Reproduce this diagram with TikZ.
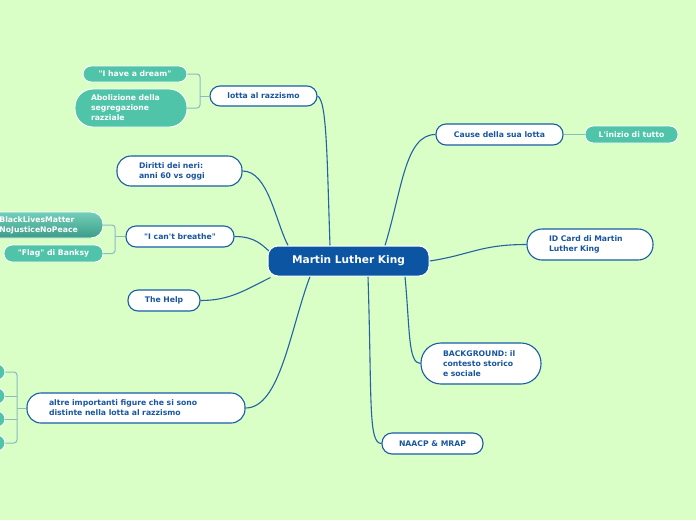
\documentclass[tikz,border=0pt]{standalone}
\usepackage{fontspec}
\setmainfont{DejaVu Sans}
\definecolor{bg}{HTML}{D9FEC6}
\definecolor{mainblue}{HTML}{0B55A3}
\definecolor{bordblue}{HTML}{1A5DA6}
\definecolor{txtblue}{HTML}{1A55A0}
\definecolor{teal}{HTML}{4FC4A9}
\definecolor{tealtop}{HTML}{72D0BA}
\definecolor{tealbot}{HTML}{3D9C87}
\definecolor{linkc}{HTML}{2462A3}
\definecolor{subc}{HTML}{8DB9C2}
\newcommand{\dq}{\textquotedbl}
\newcommand{\sq}{\textquotesingle}
\begin{document}
\begin{tikzpicture}[x=1pt,y=-1pt,
  txt/.style={font=\fontsize{7.7pt}{10pt}\selectfont\bfseries},
  wbox/.style={txt,draw=bordblue,line width=1.1pt,fill=white,text=txtblue,rounded corners=10pt,inner sep=0pt},
  tbox/.style={txt,draw=white,line width=0.9pt,fill=teal,text=white,rounded corners=8pt,inner sep=0pt},
  link/.style={draw=linkc,line width=1.1pt},
  sub/.style={draw=subc,line width=1pt,rounded corners=3pt},
  central/.style={draw=white,line width=1pt,fill=mainblue,text=white,rounded corners=10pt,minimum width=161pt,minimum height=30pt,inner sep=0pt,font=\fontsize{10.6pt}{12pt}\selectfont\bfseries}]
\useasboundingbox (0,0) rectangle (696,520);
\clip (0,0) rectangle (696,520);
\fill[bg] (0,0) rectangle (696,520);

% central
\node[central] (c) at (348.5,261) {Martin Luther King};

% white nodes
\node[wbox,minimum width=107pt,minimum height=20pt] (lotta) at (263.5,96) {lotta al razzismo};
\node[wbox,minimum width=127pt,minimum height=21pt] (cause) at (499.5,134.5) {Cause della sua lotta};
\node[wbox,minimum width=125pt,minimum height=30pt,text width=81pt,align=left,inner xsep=22pt,rounded corners=14pt] (diritti) at (179.5,171) {Diritti dei neri:\\anni 60 vs oggi};
\node[wbox,minimum width=126pt,minimum height=31pt,text width=82pt,align=left,inner xsep=22pt,rounded corners=15pt] (idcard) at (590,244.5) {ID Card di Martin\\Luther King};
\node[wbox,minimum width=108pt,minimum height=21pt] (breathe) at (180,236.5) {\dq I can\sq t breathe\dq};
\node[wbox,minimum width=72pt,minimum height=21pt] (help) at (164,300.5) {The Help};
\node[wbox,minimum width=218pt,minimum height=30pt,text width=174pt,align=left,inner xsep=22pt,rounded corners=14pt] (altre) at (136,408) {altre importanti figure che si sono\\distinte nella lotta al razzismo};
\node[wbox,minimum width=120pt,minimum height=41pt,text width=76pt,align=left,inner xsep=22pt,rounded corners=20pt] (backg) at (481,363.5) {BACKGROUND: il\\contesto storico\\e sociale};
\node[wbox,minimum width=101pt,minimum height=21pt] (naacp) at (432.5,443.5) {NAACP \& MRAP};

% teal nodes
\node[tbox,minimum width=104pt,minimum height=16pt] (dream) at (135,74) {\dq I have a dream\dq};
\node[tbox,minimum width=112pt,minimum height=38pt,text width=80pt,align=left,inner xsep=16pt,rounded corners=18pt] (abol) at (131,108) {Abolizione della\\segregazione\\razziale};
\node[tbox,minimum width=93pt,minimum height=17pt] (inizio) at (631.5,134.5) {L\sq inizio di tutto};
\node[tbox,top color=tealtop,bottom color=tealbot,minimum width=125pt,minimum height=26pt,text width=95pt,align=left,inner xsep=15pt,rounded corners=12pt] (blm) at (40.5,225) {\#BlackLivesMatter\\\#NoJusticeNoPeace};
\node[tbox,minimum width=99pt,minimum height=17pt] (banksy) at (53.5,253.5) {\dq Flag\dq{} di Banksy};
\node[tbox,minimum width=40pt,minimum height=16pt] (f1) at (-15,372) {};
\node[tbox,minimum width=40pt,minimum height=16pt] (f2) at (-15,396) {};
\node[tbox,minimum width=40pt,minimum height=16pt] (f3) at (-15,419) {};
\node[tbox,minimum width=40pt,minimum height=16pt] (f4) at (-15,443) {};

% main links
\draw[link] ([xshift=-18.5pt]c.north) .. controls (327,160) and (327,100) .. (lotta.east);
\draw[link] ([xshift=36.5pt]c.north) .. controls (402,190) and (405,134.5) .. (cause.west);
\draw[link] (c.east) .. controls (470,255) and (480,244.5) .. (idcard.west);
\draw[link] ([xshift=56.5pt]c.south) .. controls (410,330) and (408,363.5) .. (backg.west);
\draw[link] ([xshift=19.5pt]c.south) .. controls (372,400) and (368,443.5) .. (naacp.west);
\draw[link] ([xshift=-38.5pt]c.south) .. controls (290,330) and (280,408) .. (altre.east);
\draw[link] ([xshift=-78pt,yshift=-1pt]c.south) .. controls (245,290) and (230,300.5) .. (help.east);
\draw[link] ([xshift=-79pt,yshift=-6pt]c.north) .. controls (262,245) and (255,236.5) .. (breathe.east);
\draw[link] ([xshift=-60.5pt]c.north) .. controls (275,220) and (268,171) .. (diritti.east);

% sub links
\draw[sub] (lotta.west) -- (200,96);
\draw[sub] (dream.east) -| (200,96) |- (abol.east);
\draw[sub] (breathe.west) -- (115,236.5);
\draw[sub] (blm.east) -| (115,236.5) |- (banksy.east);
\draw[sub] (altre.west) -- (17,408);
\draw[sub] (f1.east) -| (17,408) |- (f4.east);
\draw[sub] (f2.east) -- (17,396);
\draw[sub] (f3.east) -- (17,419);
\draw[sub] (cause.east) -- (inizio.west);

% central on top of its links
\node[central] at (348.5,261) {Martin Luther King};
\end{tikzpicture}
\end{document}
